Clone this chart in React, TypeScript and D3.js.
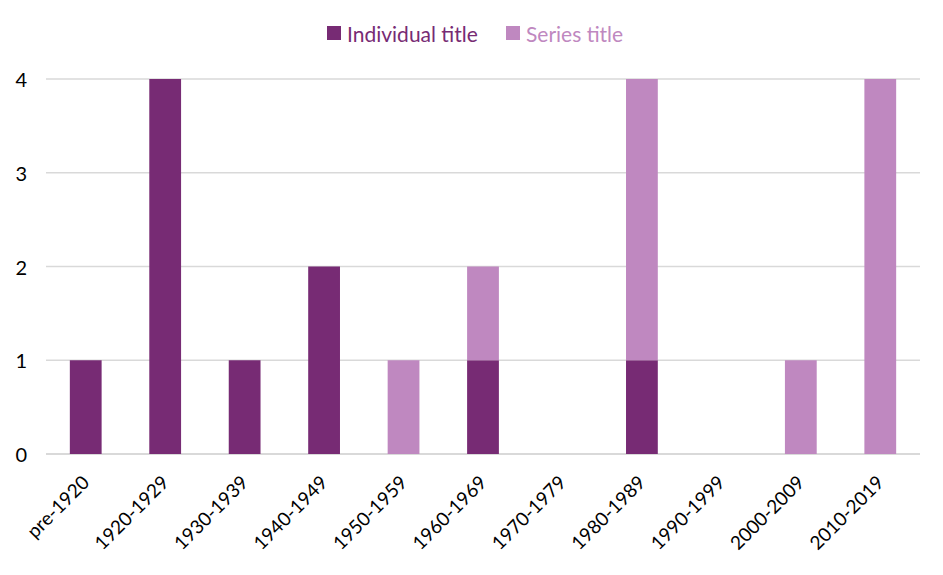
import * as d3 from "d3";
import React, { useEffect } from "react";

const categories = [
  "pre-1920",
  "1920-1929",
  "1930-1939",
  "1940-1949",
  "1950-1959",
  "1960-1969",
  "1970-1979",
  "1980-1989",
  "1990-1999",
  "2000-2009",
  "2010-2019",
];
const individualTitle = [1, 4, 1, 2, 0, 1, 0, 1, 0, 0, 0];
const seriesTitle = [0, 0, 0, 0, 1, 1, 0, 3, 0, 1, 4];
const yTicks = [0, 1, 2, 3, 4];

const seriesNames = ["Individual title", "Series title"];
const colors = ["#772b74", "#bf88c0"];

const width = 943;
const height = 575;
const margin = { top: 79, right: 23, bottom: 121, left: 46 };
const font = "Lato, 'Open Sans', sans-serif";

export default function App() {
  useEffect(() => {
    document.body.style.margin = "0";
  }, []);

  const x = d3
    .scaleBand()
    .domain(categories)
    .range([margin.left, width - margin.right])
    .paddingInner(0.6)
    .paddingOuter(0.3);
  const y = d3
    .scaleLinear()
    .domain([0, 4])
    .range([height - margin.bottom, margin.top]);

  const rows = categories.map((c, i) => ({
    cat: c,
    "Individual title": individualTitle[i],
    "Series title": seriesTitle[i],
  }));
  const stacked = d3.stack<any>().keys(seriesNames)(rows);

  return (
    <svg width={width} height={height} style={{ display: "block", background: "#fff" }}>
      {yTicks.map((t) => (
        <g key={t}>
          <line
            x1={margin.left}
            x2={width - margin.right}
            y1={y(t)}
            y2={y(t)}
            stroke="#d9d9d9"
            strokeWidth={t === 0 ? 2 : 1.3}
          />
          <text
            x={27}
            y={y(t)}
            textAnchor="end"
            dominantBaseline="central"
            fontFamily={font}
            fontSize={20}
            fill="#000"
          >
            {t}
          </text>
        </g>
      ))}
      {stacked.map((layer, li) => (
        <g key={layer.key} fill={colors[li]}>
          {layer.map((d, i) =>
            d[1] - d[0] > 0 ? (
              <rect
                key={i}
                x={x(categories[i])}
                width={x.bandwidth()}
                y={y(d[1])}
                height={y(d[0]) - y(d[1])}
              />
            ) : null
          )}
        </g>
      ))}
      {categories.map((c) => {
        const cx = (x(c) as number) + x.bandwidth() / 2;
        return (
          <text
            key={c}
            transform={`translate(${cx - 6},${473}) rotate(-45)`}
            textAnchor="end"
            dominantBaseline="hanging"
            fontFamily={font}
            fontSize={19}
            fill="#000"
          >
            {c}
          </text>
        );
      })}
      <g fontFamily={font} fontSize={21}>
        <rect x={327} y={26} width={14} height={14} fill={colors[0]} />
        <text x={347} y={33} dominantBaseline="central" fill={colors[0]}>
          {seriesNames[0]}
        </text>
        <rect x={506} y={26} width={14} height={14} fill={colors[1]} />
        <text x={526} y={33} dominantBaseline="central" fill={colors[1]}>
          {seriesNames[1]}
        </text>
      </g>
    </svg>
  );
}
